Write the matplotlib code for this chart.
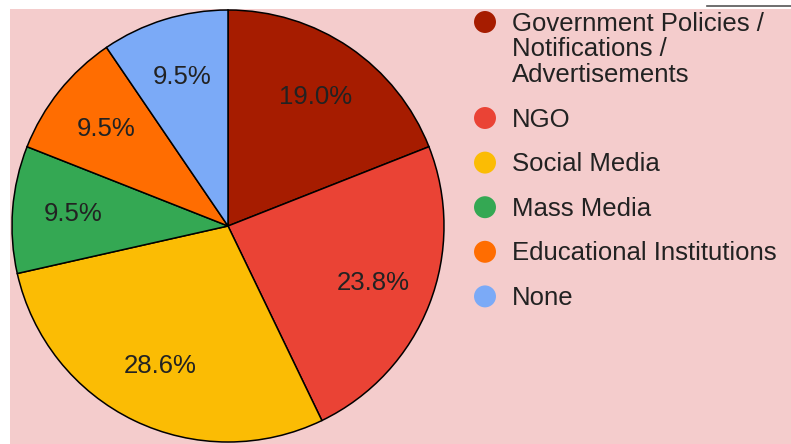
import matplotlib.pyplot as plt
from matplotlib.patches import Rectangle

# share of respondents by source of awareness
sources = ['Government Policies /\nNotifications /\nAdvertisements', 'NGO', 'Social Media',
           'Mass Media', 'Educational Institutions', 'None']
shares = [19.0, 23.8, 28.6, 9.5, 9.5, 9.5]
colors = ['#a61c00', '#ea4335', '#fbbc04', '#34a853', '#ff6d01', '#7baaf7']

W, H = 791, 444
fig = plt.figure(figsize=(W / 100, H / 100), dpi=100)
fig.patch.set_facecolor('white')
ax = fig.add_axes([0, 0, 1, 1])
plt.rcParams['font.family'] = ['Liberation Sans', 'DejaVu Sans']

# chart area
ax.add_patch(Rectangle((10, 0), W - 10, H - 9, facecolor='#f4cccc', edgecolor='none', zorder=0))
ax.plot([707, 791], [H - 6, H - 6], color='#555555', lw=1.2, zorder=1)

wedges, texts, autotexts = ax.pie(
    shares, colors=colors, startangle=90, counterclock=False,
    center=(228, H - 226), radius=216, autopct='%.1f%%', pctdistance=0.72,
    wedgeprops=dict(edgecolor='black', linewidth=1.1),
    textprops=dict(fontsize=18.5, color='#222222'))
for w in wedges:
    w.set_zorder(2)
for t in autotexts:
    t.set_zorder(3)

# legend
y = 22
line_h = 25.7
for label, c in zip(sources, colors):
    extra = label.count('\n')
    ax.scatter([485], [H - y], s=250, color=c, edgecolors='none', zorder=3)
    # baseline of the last line
    ax.text(512, H - (y + 8.5 + extra * line_h), label, fontsize=18.5, color='#222222',
            va='baseline', ha='left', linespacing=1.08, zorder=3)
    y += extra * line_h + 44.6

ax.set_xlim(0, W)
ax.set_ylim(0, H)
ax.axis('off')

fig.savefig('out.png', dpi=100, facecolor='white')
